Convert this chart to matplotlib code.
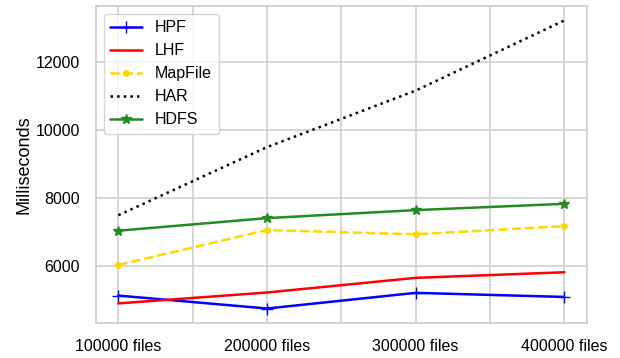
import matplotlib
matplotlib.use("Agg")
import matplotlib.pyplot as plt
import seaborn as sns

categories = ["100000 files", "200000 files", "300000 files", "400000 files"]
hpf = [5130, 4750, 5210, 5090]
lhf = [4900, 5220, 5650, 5815]
mapfile = [6030, 7055, 6930, 7170]
har = [7490, 9490, 11150, 13210]
hdfs = [7035, 7405, 7640, 7825]

sns.set_style("whitegrid")
plt.rcParams["font.family"] = ["Liberation Sans", "DejaVu Sans"]
plt.rcParams["text.color"] = "black"
plt.rcParams["axes.labelcolor"] = "black"
plt.rcParams["xtick.color"] = "black"
plt.rcParams["ytick.color"] = "black"

fig, ax = plt.subplots(figsize=(6.2, 3.58), dpi=100)
x = list(range(len(categories)))

lw = 1.8
ax.plot(x, hpf, color="blue", marker="+", markersize=8, linewidth=lw, label="HPF")
ax.plot(x, lhf, color="red", linewidth=lw, label="LHF")
ax.plot(x, mapfile, color="gold", linestyle="--", marker="o", markersize=4,
        linewidth=lw, label="MapFile")
ax.plot(x, har, color="black", linestyle=":", linewidth=lw, label="HAR")
ax.plot(x, hdfs, color="forestgreen", marker="*", markersize=7, linewidth=lw,
        label="HDFS")

# grid every half step, labels only on whole categories
ticks = [i * 0.5 for i in range(2 * len(categories) - 1)]
ax.set_xticks(ticks)
ax.set_xticklabels([categories[int(t)] if t == int(t) else "" for t in ticks])
ax.set_yticks([6000, 8000, 10000, 12000])
ax.tick_params(labelsize=11.5, pad=8)
ax.set_ylabel("Milliseconds", fontsize=13, labelpad=2)

for s in ax.spines.values():
    s.set_color("#cccccc")
    s.set_linewidth(1.2)
ax.grid(color="#d0d0d0", linewidth=1.2)

ax.legend(loc="upper left", fontsize=11.5, frameon=True)

fig.subplots_adjust(left=0.155, right=0.946, top=0.983, bottom=0.098)
fig.savefig("out.png", dpi=100)
